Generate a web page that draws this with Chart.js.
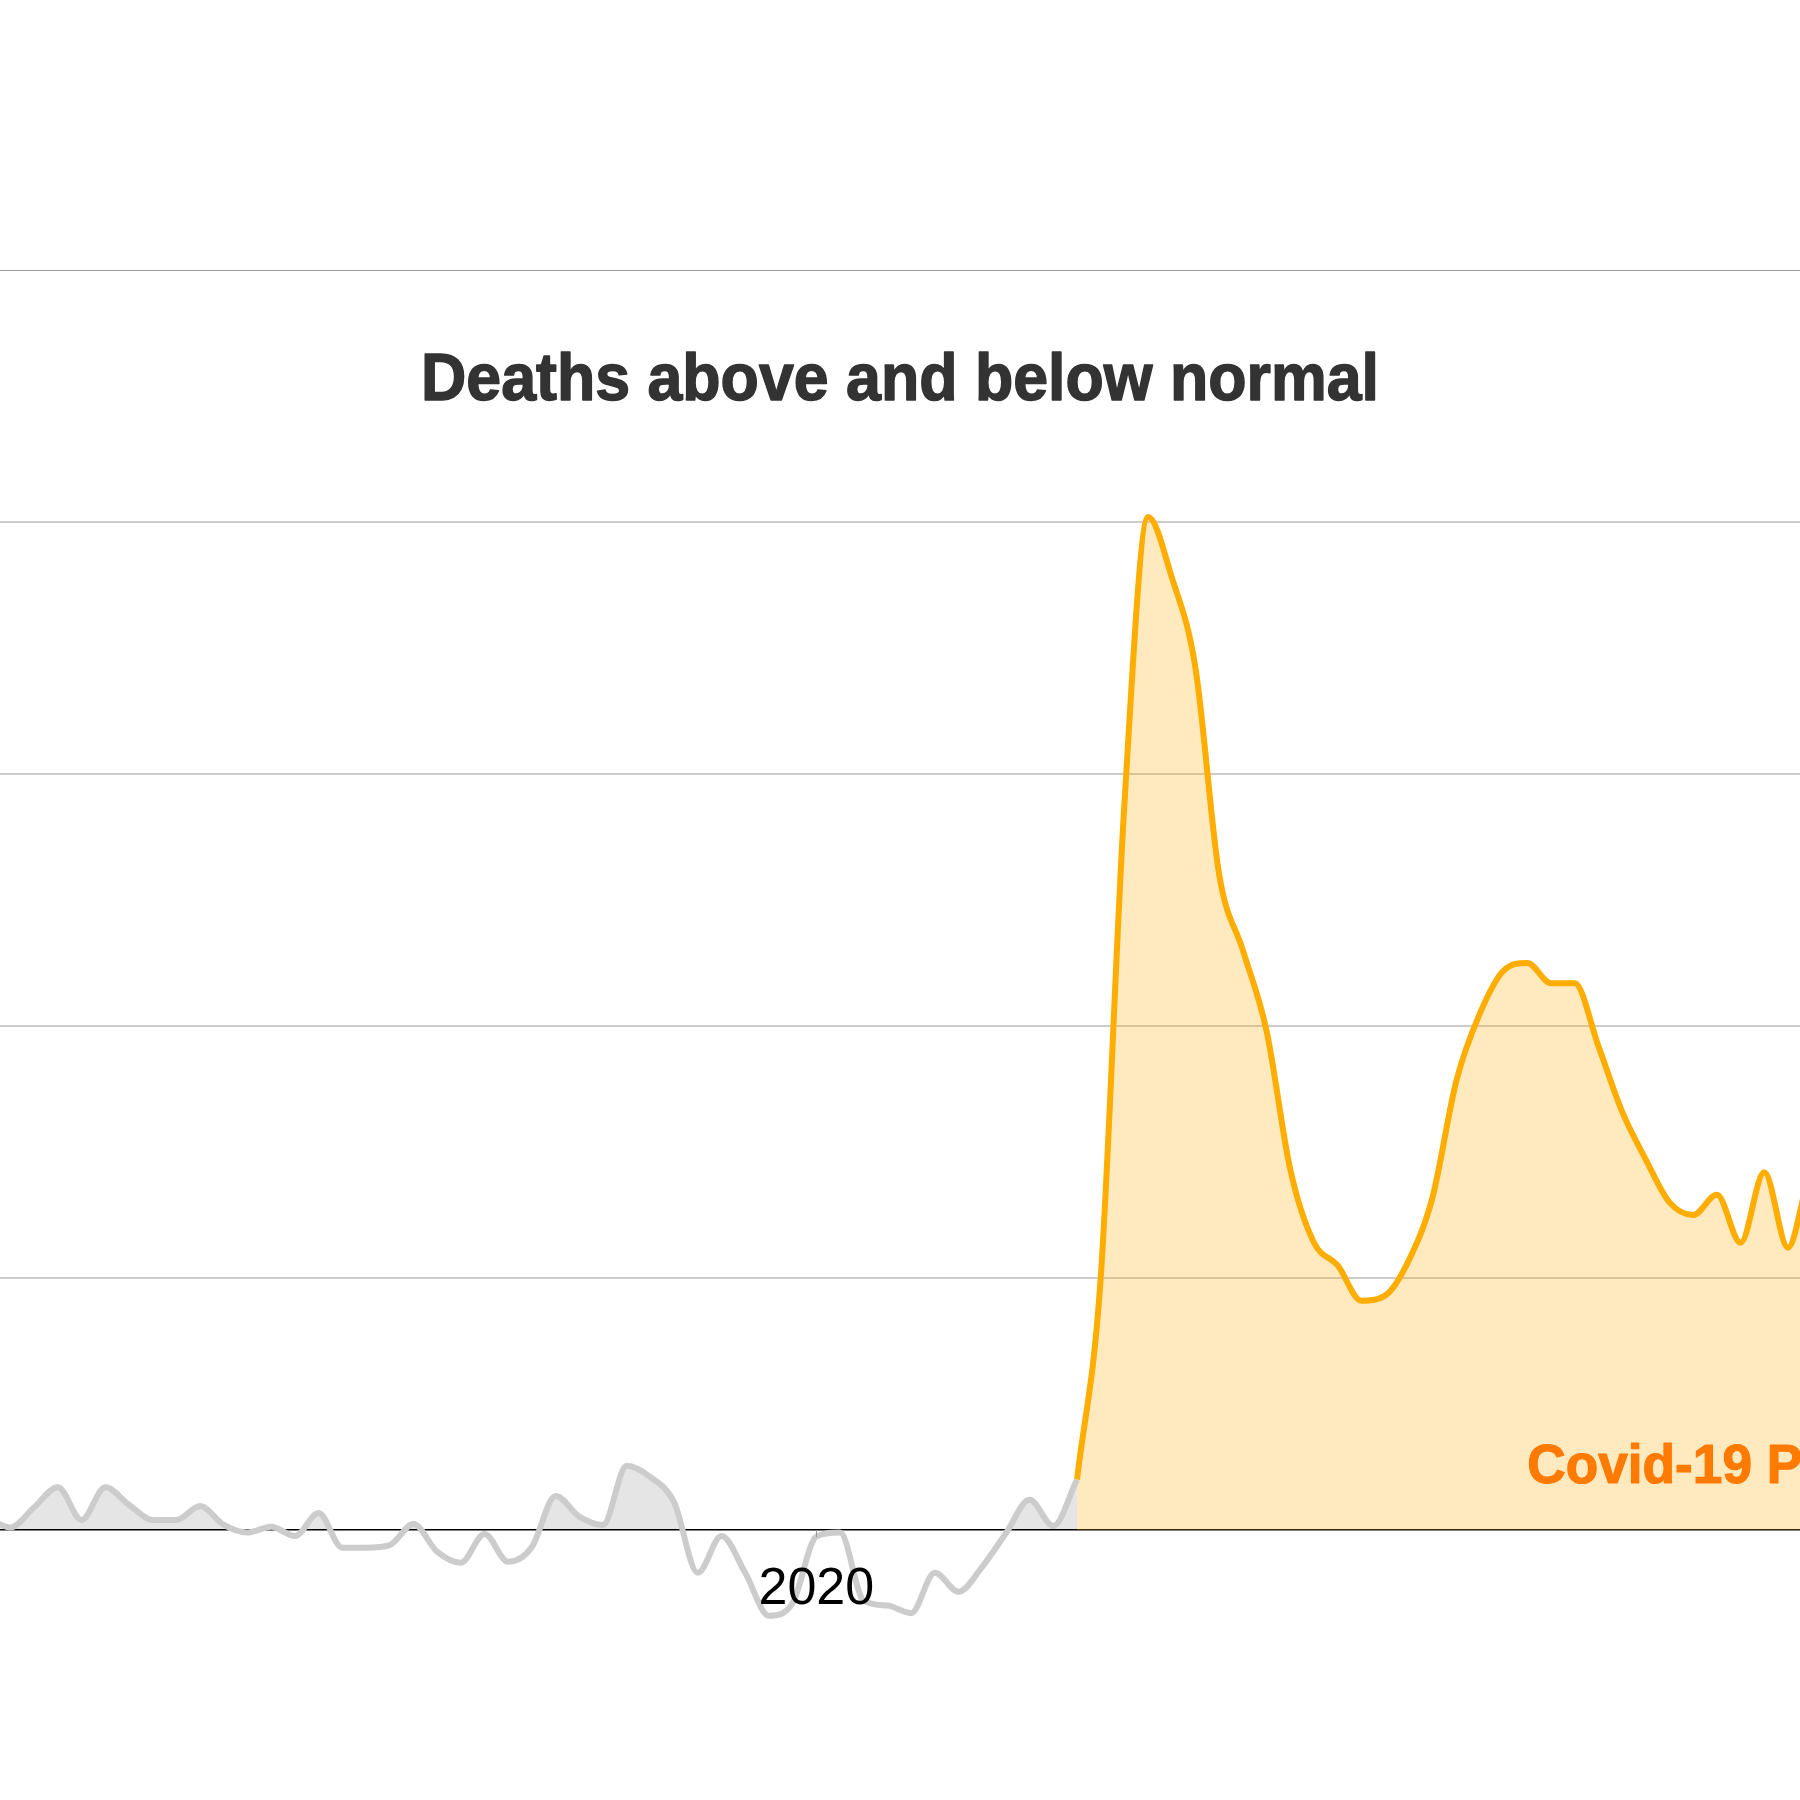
<!DOCTYPE html>
<html>
<head>
<meta charset="utf-8">
<script src="https://cdn.jsdelivr.net/npm/chart.js@4.4.1/dist/chart.umd.min.js"></script>
<style>
  html, body { margin: 0; padding: 0; background: #fff; overflow: hidden; }
  #deaths { display: block; }
</style>
</head>
<body>
<canvas id="deaths" width="1800" height="1800"></canvas>
<script>
// weeks counted from the start of 2020 (week 0 = "2020" tick)
const normalWeeks = [-35, -34, -33, -32, -31, -30, -29, -28, -27, -26, -25, -24, -23, -22, -21, -20, -19,
  -18, -17, -16, -15, -14, -13, -12, -11, -10, -9, -8, -7, -6, -5, -4, -3, -2, -1,
  0, 1, 2, 3, 4, 5, 6, 7, 8, 9, 10, 11];
const normalValues = [0.05, 0.01, 0.09, 0.17, 0.04, 0.17, 0.10, 0.04, 0.04, 0.095, 0.02, -0.01, 0.013, -0.024, 0.067, -0.07, -0.07,
  -0.06, 0.024, -0.086, -0.13, -0.016, -0.126, -0.067, 0.135, 0.053, 0.02, 0.255, 0.21, 0.11, -0.17, -0.024, -0.17, -0.34, -0.29,
  -0.026, -0.01, -0.28, -0.30, -0.33, -0.17, -0.245, -0.146, -0.013, 0.12, 0.016, 0.20];

const covidWeeks = [11, 12, 13, 14, 15, 16, 17, 18, 19, 20, 21, 22, 23, 24, 25, 26, 27,
  28, 29, 30, 31, 32, 33, 34, 35, 36, 37, 38, 39, 40, 41, 42, 43];
const covidValues = [0.20, 1.00, 2.88, 4.02, 3.78, 3.42, 2.60, 2.30, 1.98, 1.43, 1.14, 1.05, 0.91, 0.93, 1.07, 1.32, 1.78,
  2.05, 2.22, 2.25, 2.17, 2.17, 1.92, 1.66, 1.47, 1.30, 1.25, 1.33, 1.14, 1.42, 1.12, 1.40, 1.30];

const yTicks = [-1, 0, 1, 2, 3, 4, 5];
const xTickWeeks = [0];
const xTickLabels = ['2020'];

const titleText = 'Deaths above and below normal';
const covidLabel = 'Covid-19 Pandemic';

const toPoints = (xs, ys) => xs.map((w, i) => ({ x: w, y: ys[i] }));

// bold condensed-looking text: squeeze a regular bold face a bit and thicken it
function drawSqueezed(ctx, text, x, y, font, color, align, squeeze, extra) {
  ctx.save();
  ctx.font = font;
  ctx.fillStyle = color;
  ctx.strokeStyle = color;
  ctx.lineWidth = extra;
  ctx.lineJoin = 'round';
  ctx.textAlign = align;
  ctx.textBaseline = 'alphabetic';
  ctx.translate(x, y);
  ctx.scale(squeeze, 1);
  ctx.fillText(text, 0, 0);
  if (extra > 0) ctx.strokeText(text, 0, 0);
  ctx.restore();
}

const labelsPlugin = {
  id: 'labelsPlugin',
  afterDraw(chart) {
    const { ctx, chartArea, scales: { x, y } } = chart;
    const zeroY = y.getPixelForValue(0);

    // title
    const titleFont = 'bold 67px "Liberation Sans", Arial, sans-serif';
    ctx.save();
    ctx.font = titleFont;
    const tw = ctx.measureText(titleText).width;
    ctx.restore();
    drawSqueezed(ctx, titleText, (chartArea.left + chartArea.right) / 2, y.getPixelForValue(4.5) + 4,
      titleFont, '#333333', 'center', 958 / tw, 1.5);

    // covid label
    drawSqueezed(ctx, covidLabel, x.getPixelForValue(30), zeroY - 47,
      'bold 56px "Liberation Sans", Arial, sans-serif', '#ff7a00', 'left', 0.95, 1.2);

    // x tick + label
    xTickWeeks.forEach((w, i) => {
      const px = x.getPixelForValue(w);
      ctx.save();
      ctx.strokeStyle = '#999';
      ctx.lineWidth = 1;
      ctx.beginPath();
      ctx.moveTo(Math.round(px) + 0.5, zeroY);
      ctx.lineTo(Math.round(px) + 0.5, zeroY + 7);
      ctx.stroke();
      ctx.font = '52px "Liberation Sans", Arial, sans-serif';
      ctx.fillStyle = '#000';
      ctx.textAlign = 'center';
      ctx.textBaseline = 'alphabetic';
      ctx.fillText(xTickLabels[i], px, zeroY + 74);
      ctx.restore();
    });
  }
};

const config = {
  type: 'line',
  data: {
    datasets: [
      {
        label: 'Normal',
        data: toPoints(normalWeeks, normalValues),
        borderColor: '#cccccc',
        borderWidth: 6,
        cubicInterpolationMode: 'monotone',
        pointRadius: 0,
        fill: { target: 'origin', above: 'rgba(0, 0, 0, 0.1)', below: 'rgba(0, 0, 0, 0)' },
      },
      {
        label: 'Covid-19',
        data: toPoints(covidWeeks, covidValues),
        borderColor: '#ffad00',
        borderWidth: 6,
        cubicInterpolationMode: 'monotone',
        pointRadius: 0,
        fill: { target: 'origin', above: 'rgba(255, 173, 0, 0.25)', below: 'rgba(0, 0, 0, 0)' },
      },
    ]
  },
  options: {
    responsive: false,
    animation: false,
    devicePixelRatio: 1,
    layout: { padding: { top: 270, bottom: 18, left: 0, right: 0 } },
    scales: {
      x: {
        type: 'linear',
        display: false,
        min: -34.443,
        max: 41.506,
      },
      y: {
        type: 'linear',
        min: yTicks[0],
        max: yTicks[yTicks.length - 1],
        afterBuildTicks: (scale) => { scale.ticks = yTicks.map(v => ({ value: v })); },
        ticks: { display: false },
        border: { display: false },
        grid: {
          drawTicks: false,
          color: (c) => {
            const v = c.tick.value;
            if (v === 0) return '#000000';
            if (v === 5) return '#9a9a9a';
            if (v === -1) return 'rgba(0,0,0,0)';
            return '#cccccc';
          },
          lineWidth: (c) => {
            const v = c.tick.value;
            if (v === 5) return 1;
            if (v === 0) return 1.5;
            return 2;
          },
        },
      },
    },
    plugins: {
      legend: { display: false },
      tooltip: { enabled: false },
    },
  },
  plugins: [labelsPlugin],
};

const deathsChart = new Chart(document.getElementById('deaths'), config);
</script>
</body>
</html>
